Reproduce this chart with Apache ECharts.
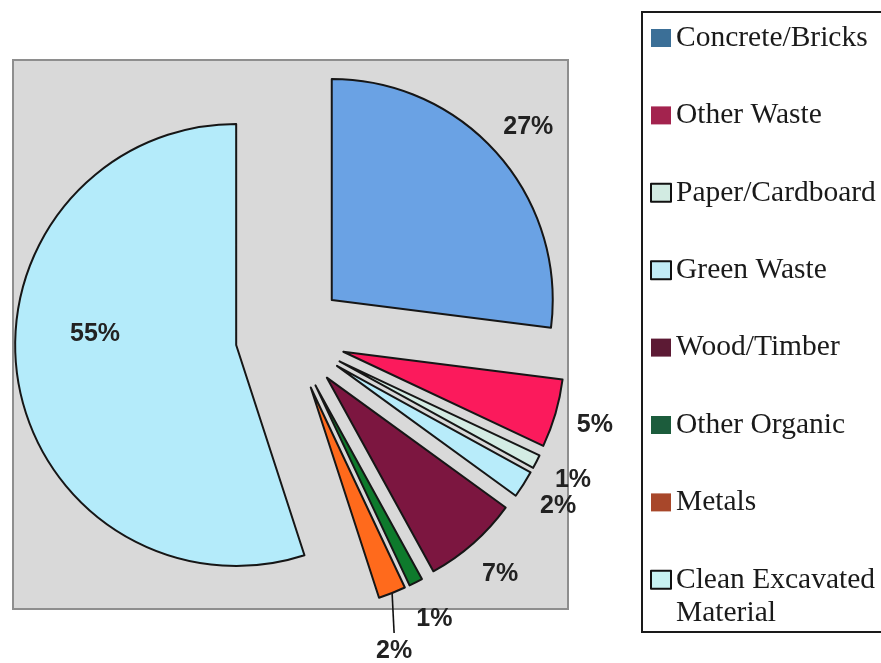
<!DOCTYPE html>
<html>
<head>
<meta charset="utf-8">
<title>Waste composition</title>
<script src="https://cdn.jsdelivr.net/npm/echarts@6/dist/echarts.min.js"></script>
<style>
  html, body { margin: 0; padding: 0; background: #ffffff; }
  #chart { width: 881px; height: 663px; }
</style>
</head>
<body>
<div id="chart"></div>
<script>
// Composition of the waste stream, percentage share of each category
const categories = [
  'Concrete/Bricks',
  'Other Waste',
  'Paper/Cardboard',
  'Green Waste',
  'Wood/Timber',
  'Other Organic',
  'Metals',
  'Clean Excavated Material'
];
const shares = [27, 5, 1, 2, 7, 1, 2, 55];

// Styling
const sliceColors = ['#6aa2e4', '#fb1a5c', '#d4ece4', '#b8ecfa', '#7c1640', '#0e7a2c', '#ff6a1c', '#b4ebfa'];
const keyColors   = ['#3b6f97', '#a3234e', '#d2ebe2', '#c2ecf6', '#5c1a34', '#1c5c3c', '#a8472a', '#c8f2f2'];
const keyOutlined = [false, false, true, true, false, false, false, true];

const CX = 290.5, CY = 336.4;   // pie centre before the slices are pulled apart
const R = 221;                  // slice radius
const EXPLODE = 55;             // distance every slice is pulled out from the centre
const METALS = categories.indexOf('Metals');
const BULK = categories.indexOf('Clean Excavated Material');

const pctFont = {
  fontFamily: '"Liberation Sans", Arial, sans-serif',
  fontWeight: 'bold',
  fontSize: 25,
  color: '#222222'
};
const keyFont = {
  fontFamily: '"Liberation Serif", "Times New Roman", serif',
  fontSize: 29.5,
  color: '#1a1a1a'
};

const chart = echarts.init(document.getElementById('chart'), null, { renderer: 'canvas' });

chart.setOption({
  animation: false,
  backgroundColor: '#ffffff',
  graphic: [
    { // plot area
      type: 'rect', silent: true, z: 0,
      shape: { x: 13, y: 60, width: 555, height: 549 },
      style: { fill: '#d9d9d9', stroke: '#8e8e8e', lineWidth: 2 }
    },
    { // legend frame
      type: 'rect', silent: true, z: 0,
      shape: { x: 642, y: 12, width: 270, height: 620 },
      style: { fill: '#ffffff', stroke: '#1a1a1a', lineWidth: 2 }
    }
  ],
  legend: {
    orient: 'vertical',
    left: 650,
    top: 22,
    padding: 0,
    itemGap: 45.4,
    itemWidth: 20,
    itemHeight: 18,
    icon: 'rect',
    selectedMode: false,
    textStyle: Object.assign({}, keyFont, {
      lineHeight: 32,
      rich: {
        first: Object.assign({}, keyFont, { lineHeight: 32 }),
        second: Object.assign({}, keyFont, { lineHeight: 0, verticalAlign: 'top', padding: [2, 0, 0, 0] })
      }
    }),
    formatter: function (name) {
      if (name === categories[BULK]) {
        return '{first|Clean Excavated}\n{second|Material}';
      }
      return name;
    },
    data: categories.map(function (name, i) {
      return {
        name: name,
        itemStyle: {
          color: keyColors[i],
          borderColor: '#111111',
          borderWidth: keyOutlined[i] ? 2 : 0
        }
      };
    })
  },
  series: [
    { // exploded slices
      type: 'pie',
      center: [CX, CY],
      radius: R,
      startAngle: 90,
      clockwise: true,
      selectedMode: 'multiple',
      selectedOffset: EXPLODE,
      avoidLabelOverlap: false,
      legendHoverLink: false,
      emphasis: { disabled: true },
      stateAnimation: { duration: 0 },
      itemStyle: { borderColor: '#161616', borderWidth: 2 },
      select: { itemStyle: { borderColor: '#161616', borderWidth: 2 } },
      label: { show: false },
      labelLine: { show: false },
      data: categories.map(function (name, i) {
        return {
          name: name,
          value: shares[i],
          selected: true,
          itemStyle: { color: sliceColors[i] },
          label: i === BULK
            ? {
                show: true,
                position: 'inside',
                formatter: function (p) { return '{v|' + p.value + '%}'; },
                rich: { v: Object.assign({ padding: [0, 58, 58, 0] }, pctFont) }
              }
            : { show: false }
        };
      })
    },
    { // percentage labels just beyond each slice
      type: 'pie',
      center: [CX, CY],
      radius: [R + EXPLODE + 20, R + EXPLODE + 56],
      startAngle: 90,
      clockwise: true,
      silent: true,
      avoidLabelOverlap: false,
      labelLayout: { hideOverlap: false },
      legendHoverLink: false,
      emphasis: { disabled: true },
      itemStyle: { color: 'rgba(0,0,0,0)', borderWidth: 0 },
      label: Object.assign({ show: true, position: 'inside', formatter: '{c}%' }, pctFont),
      labelLine: { show: false },
      data: categories.map(function (name, i) {
        return {
          name: name,
          value: shares[i],
          label: { show: i !== BULK && i !== METALS }
        };
      })
    },
    { // metals label with its leader line
      type: 'pie',
      center: [CX, CY],
      radius: R + EXPLODE,
      startAngle: 90,
      clockwise: true,
      silent: true,
      avoidLabelOverlap: false,
      legendHoverLink: false,
      emphasis: { disabled: true },
      itemStyle: { color: 'rgba(0,0,0,0)', borderWidth: 0 },
      label: { show: false },
      labelLine: { show: false },
      data: categories.map(function (name, i) {
        if (i !== METALS) return { name: name, value: shares[i] };
        return {
          name: name,
          value: shares[i],
          label: Object.assign({ show: true, position: 'outside', formatter: '{c}%' }, pctFont),
          labelLine: { show: true, length: 10, length2: 0, lineStyle: { color: '#111111', width: 1.6 } }
        };
      }),
      labelLayout: function (p) {
        if (p.dataIndex !== METALS || !p.labelLinePoints) return {};
        // drop the label straight below the slice's outer edge
        const ax = p.labelLinePoints[0][0];
        const ay = p.labelLinePoints[0][1];
        const x = ax + 2;
        const y = ay + 58;
        return {
          x: x,
          y: y,
          align: 'center',
          verticalAlign: 'middle',
          labelLinePoints: [[ax, ay], [ax + 1, ay + 20], [x, y - 18]]
        };
      }
    }
  ]
});
</script>
</body>
</html>
